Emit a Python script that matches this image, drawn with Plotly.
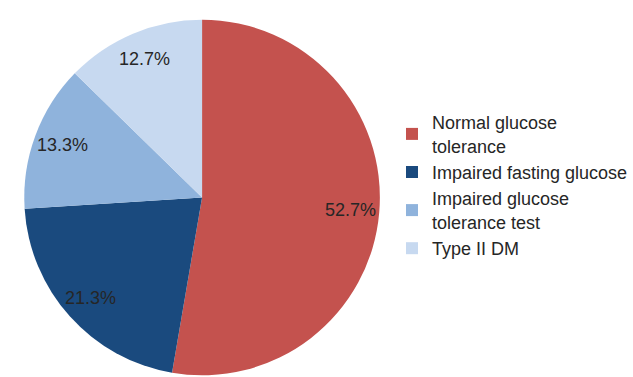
import math
import plotly.graph_objects as go

categories = ["Normal glucose<br>tolerance", "Impaired fasting glucose",
              "Impaired glucose<br>tolerance test", "Type II DM"]
values = [52.7, 21.3, 13.3, 12.7]
colors = ["#C4524E", "#1A4A7E", "#8FB3DC", "#C7D9F0"]

W, H = 633, 377
# pie placement (pixels)
PIE_LEFT, PIE_TOP, PIE_SIZE = 24.5, 18, 359
LABEL_R = 0.84  # label distance as fraction of radius

fig = go.Figure(go.Pie(
    labels=categories,
    values=values,
    sort=False,
    direction="clockwise",
    rotation=0,
    marker=dict(colors=colors, line=dict(width=0)),
    textinfo="none",
    domain=dict(x=[PIE_LEFT / W, (PIE_LEFT + PIE_SIZE) / W],
                y=[1 - (PIE_TOP + PIE_SIZE) / H, 1 - PIE_TOP / H]),
    hoverinfo="skip",
))

# percentage labels placed along each slice's mid-angle
cx = PIE_LEFT + PIE_SIZE / 2
cy = PIE_TOP + PIE_SIZE / 2
R = PIE_SIZE / 2
total = sum(values)
cum = 0.0
for v in values:
    mid = (cum + v / 2) / total * 2 * math.pi
    cum += v
    px = cx + LABEL_R * R * math.sin(mid)
    py = cy - LABEL_R * R * math.cos(mid)
    fig.add_annotation(
        x=px / W, y=1 - py / H, xref="paper", yref="paper",
        text=f"{v / total * 100:.1f}%", showarrow=False,
        font=dict(family="Arial, Liberation Sans", size=18, color="#262626"),
        xanchor="center", yanchor="middle",
    )

fig.update_layout(
    width=W, height=H,
    margin=dict(l=0, r=0, t=0, b=0),
    paper_bgcolor="white",
    showlegend=True,
    legend=dict(
        x=396 / W, xanchor="left",
        y=1 - 104 / H, yanchor="top",
        font=dict(family="Arial, Liberation Sans", size=18, color="#262626"),
        bgcolor="rgba(0,0,0,0)",
    ),
)
fig.write_html("out.html")
